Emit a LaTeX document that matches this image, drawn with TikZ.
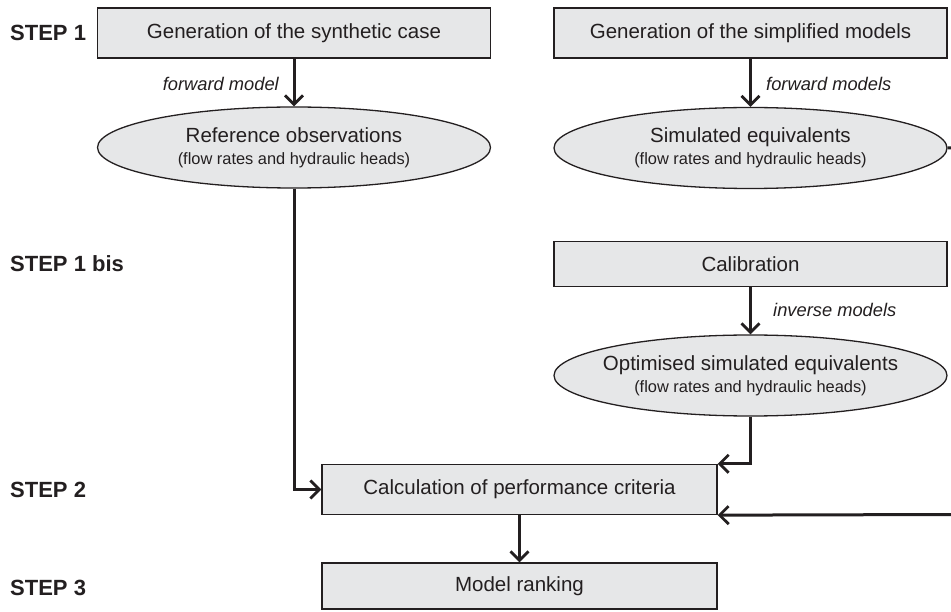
\documentclass[tikz,border=0pt]{standalone}
\usepackage{fontspec}
\setmainfont{Liberation Sans}
\usetikzlibrary{arrows.meta,shapes.geometric}
\definecolor{boxfill}{HTML}{E6E7E8}
\definecolor{ink}{HTML}{231F20}
\newcommand{\subline}[1]{{\fontsize{16.4}{22}\selectfont #1}}
\tikzset{
  stepbox/.style={draw=ink, line width=1.3pt, fill=boxfill, minimum width=393pt, minimum height=50pt, inner sep=0pt, font=\fontsize{20.5}{24}\selectfont, text=ink},
  obsell/.style={draw=ink, line width=1.3pt, fill=boxfill, ellipse, minimum width=393pt, minimum height=81pt, inner xsep=-60pt, inner ysep=0pt, align=center, text=ink, font=\fontsize{20.5}{22}\selectfont},
  conn/.style={draw=ink, line width=3pt, -{Straight Barb[length=9pt,width=18pt,line width=2.8pt]}},
  steplab/.style={font=\bfseries\fontsize{22}{24}\selectfont, text=ink, anchor=west, inner sep=0pt},
  arrlab/.style={font=\itshape\fontsize{18.3}{20}\selectfont, text=ink, inner sep=0pt}
}
\begin{document}
\begin{tikzpicture}[x=1pt,y=-1pt]
\useasboundingbox (0,0) rectangle (951,612);
\fill[white] (0,0) rectangle (951,612);
% steps
\node[steplab] (s1) at (10,33) {STEP 1};
\node[steplab] (s1b) at (10,264) {STEP 1 bis};
\node[steplab] (s2) at (10,490) {STEP 2};
\node[steplab] (s3) at (10,588) {STEP 3};
% boxes
\node[stepbox] (gsyn) at (294,33) {Generation of the synthetic case};
\node[stepbox] (gsim) at (750.5,33) {Generation of the simplified models};
\node[obsell] (refobs) at (294,147.5) {Reference observations\\\subline{(flow rates and hydraulic heads)}};
\node[obsell] (simeq) at (750.5,148) {Simulated equivalents\\\subline{(flow rates and hydraulic heads)}};
\node[stepbox, minimum height=45pt] (calib) at (750.5,264) {Calibration};
\node[obsell] (opteq) at (750.5,375.5) {Optimised simulated equivalents\\\subline{(flow rates and hydraulic heads)}};
\node[stepbox, minimum width=395pt] (calc) at (519.5,489.5) {Calculation of performance criteria};
\node[stepbox, minimum width=395pt, minimum height=46pt] (rank) at (519.5,586) {Model ranking};
% connectors
\draw[conn] (gsyn.south) -- (refobs.north);
\draw[conn] (gsim.south) -- (simeq.north);
\draw[conn] (calib.south) -- (opteq.north);
\draw[conn] (calc.south) -- (rank.north);
\draw[conn] (refobs.south) |- (calc.west);
\draw[conn] (opteq.south) |- (calc.north east);
\coordinate (fbtop) at (954,148);
\coordinate (fbbot) at (954,514.5);
\draw[conn] (simeq.east) -- (fbtop) -- (fbbot) -- (calc.south east);
% arrow labels
\node[arrlab, anchor=east] (lfm) at (279,84) {forward model};
\node[arrlab, anchor=west] (lfms) at (766,84) {forward models};
\node[arrlab, anchor=west] (linv) at (773,310) {inverse models};
\end{tikzpicture}
\end{document}
